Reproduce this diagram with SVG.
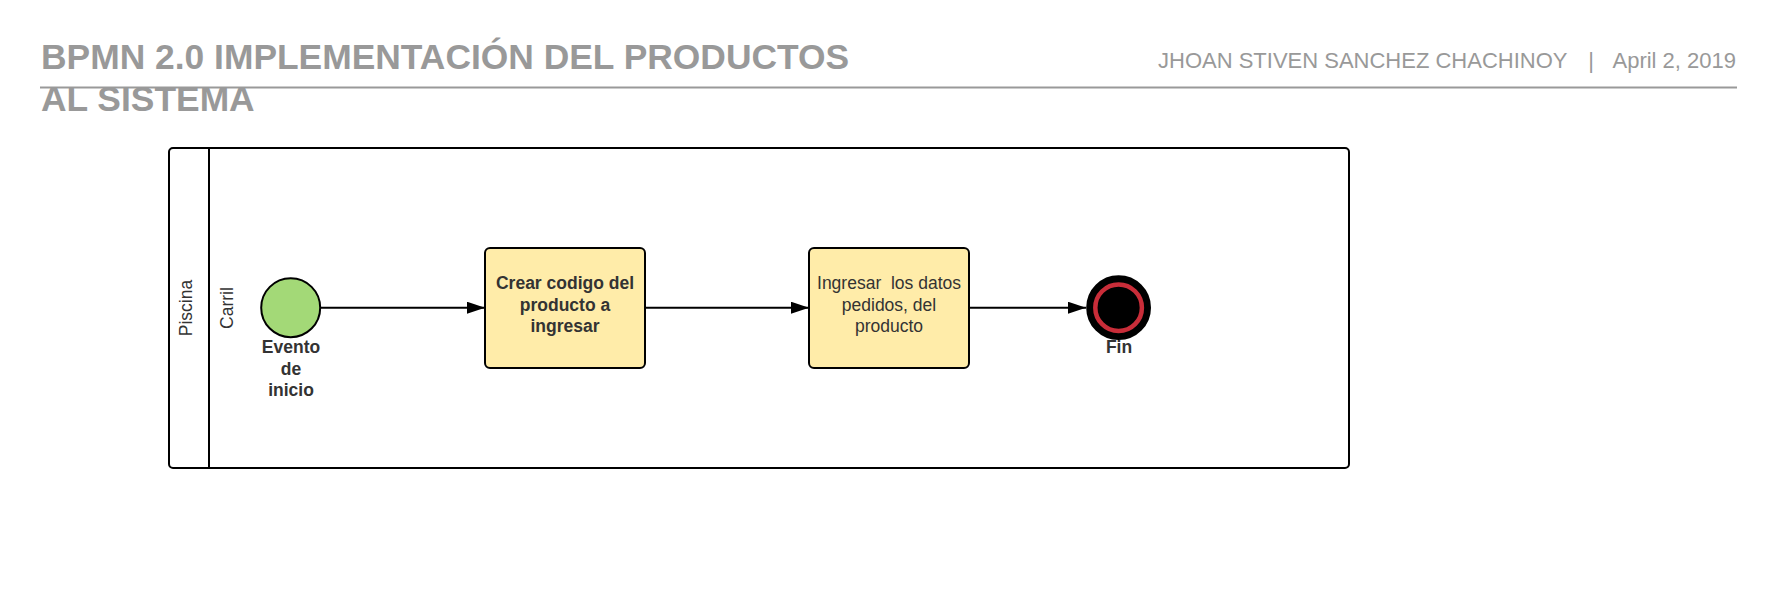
<svg xmlns="http://www.w3.org/2000/svg" width="1777" height="593" viewBox="0 0 1777 593">
<defs>
<style>
.hdr{font-family:"Liberation Sans",Arial,sans-serif;fill:#999999}
.title{font-size:35.4px;font-weight:bold}
.meta{font-size:22px}
.lbl{font-family:"Liberation Sans",Arial,sans-serif;font-size:17.5px;fill:#333333;text-anchor:middle}
.b{font-weight:bold}
.pool{fill:#ffffff;stroke:#000000;stroke-width:2}
.task{fill:#ffeca9;stroke:#000000;stroke-width:2}
.conn{fill:none;stroke:#000000;stroke-width:2}
</style>
<marker id="arr" viewBox="0 0 18 12" refX="18" refY="6" markerWidth="18" markerHeight="12" markerUnits="userSpaceOnUse" orient="auto">
<path d="M0,0 L18,6 L0,12 Z" fill="#000000"/>
</marker>
</defs>
<rect width="1777" height="593" fill="#ffffff"/>
<g id="header">
<text class="hdr title" x="41" y="69">BPMN 2.0 IMPLEMENTACIÓN DEL PRODUCTOS</text>
<text class="hdr title" x="41" y="111">AL SISTEMA</text>
<line x1="40" y1="87.5" x2="1737" y2="87.5" stroke="#999999" stroke-width="2"/>
<text class="hdr meta" x="1158" y="67.5">JHOAN STIVEN SANCHEZ CHACHINOY</text>
<text class="hdr meta" x="1591" y="67.5" text-anchor="middle">|</text>
<text class="hdr meta" x="1736" y="67.5" text-anchor="end">April 2, 2019</text>
</g>
<g id="pool">
<rect class="pool" x="169" y="148" width="1180" height="320" rx="4"/>
<line x1="209" y1="148" x2="209" y2="468" stroke="#000000" stroke-width="2"/>
<text class="lbl" transform="translate(192,308) rotate(-90)">Piscina</text>
<text class="lbl" transform="translate(233,308) rotate(-90)">Carril</text>
</g>
<g id="connectors">
<line class="conn" x1="321" y1="307.7" x2="485" y2="307.7" marker-end="url(#arr)"/>
<line class="conn" x1="645" y1="307.7" x2="809" y2="307.7" marker-end="url(#arr)"/>
<line class="conn" x1="969" y1="307.7" x2="1086" y2="307.7" marker-end="url(#arr)"/>
</g>
<g id="start">
<circle cx="290.7" cy="307.7" r="29.5" fill="#a3d977" stroke="#000000" stroke-width="2"/>
<text class="lbl b" x="291" y="353">Evento</text>
<text class="lbl b" x="291" y="374.5">de</text>
<text class="lbl b" x="291" y="396">inicio</text>
</g>
<g id="task1">
<rect class="task" x="485" y="248" width="160" height="120" rx="5"/>
<text class="lbl b" x="565" y="289">Crear codigo del</text>
<text class="lbl b" x="565" y="310.5">producto a</text>
<text class="lbl b" x="565" y="332">ingresar</text>
</g>
<g id="task2">
<rect class="task" x="809" y="248" width="160" height="120" rx="5"/>
<text class="lbl" x="889" y="289" xml:space="preserve" style="white-space:pre">Ingresar  los datos</text>
<text class="lbl" x="889" y="310.5">pedidos, del</text>
<text class="lbl" x="889" y="332">producto</text>
</g>
<g id="end">
<circle cx="1118.6" cy="307.7" r="29.4" fill="#000000" stroke="#000000" stroke-width="6"/>
<circle cx="1118.6" cy="307.7" r="23.3" fill="#000000" stroke="#c92d39" stroke-width="4.5"/>
<text class="lbl b" x="1119" y="353">Fin</text>
</g>
</svg>
